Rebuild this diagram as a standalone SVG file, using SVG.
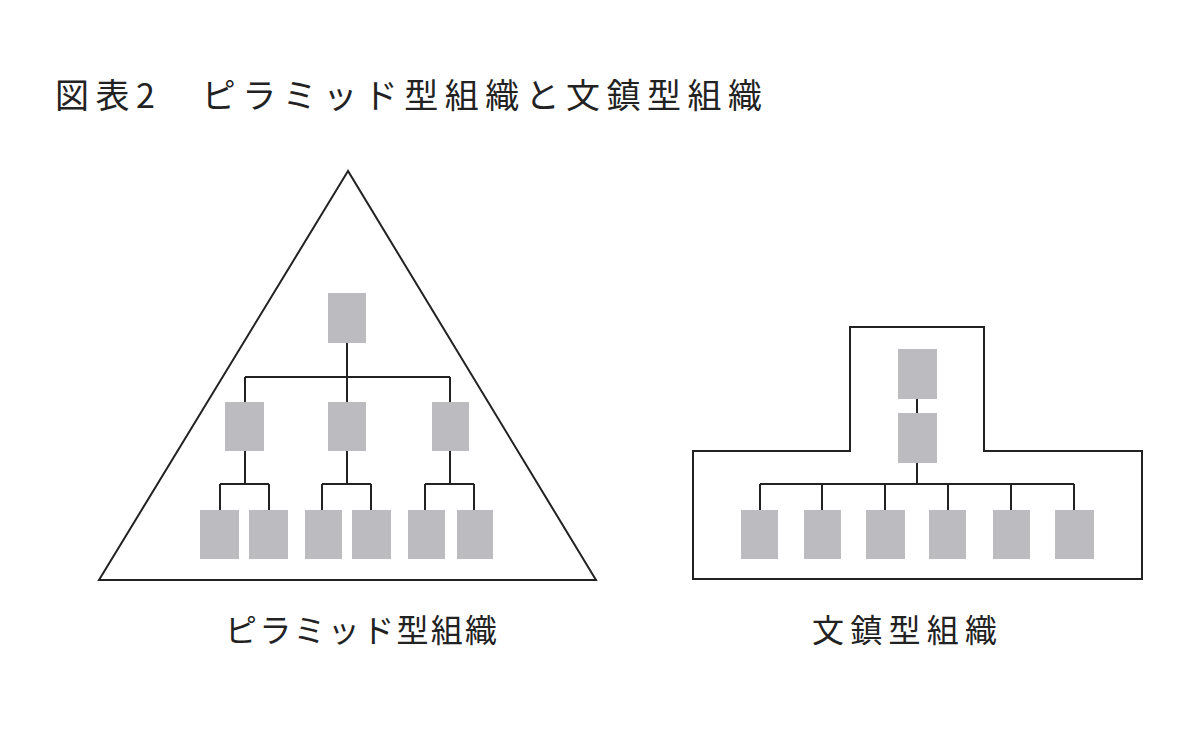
<svg xmlns="http://www.w3.org/2000/svg" width="1200" height="741" viewBox="0 0 1200 741">
<style>
.b{fill:#bcbcc0}
.o{fill:none;stroke:#222;stroke-width:2}
.c{fill:none;stroke:#222;stroke-width:2}
text{font-family:"Noto Sans CJK JP","Noto Sans",sans-serif;fill:#222}
</style>
<rect width="1200" height="741" fill="#fff"/>
<text x="55" y="108" font-size="34" font-weight="400" textLength="707" lengthAdjust="spacing">図表2　ピラミッド型組織と文鎮型組織</text>
<g id="pyramid-frame"><polygon class="o" points="348,171 99,580 596,580"/></g>
<g id="chain-frame"><polygon class="o" points="850,327 984,327 984,451 1142,451 1142,579 693,579 693,451 850,451"/></g>
<g id="connectors">
<path class="c" d="M347,343V402M245,377H450M245,377V402M450,377V402"/>
<path class="c" d="M245,451V484M220,484H269M220,484V510M269,484V510"/>
<path class="c" d="M347,451V484M322,484H371M322,484V510M371,484V510"/>
<path class="c" d="M450,451V484M425,484H474M425,484V510M474,484V510"/>
<path class="c" d="M917,399V413M917,463V484M760,484H1074M760,484V510M822,484V510M885,484V510M948,484V510M1011,484V510M1074,484V510"/>
</g>
<g id="p-top"><rect class="b" x="328" y="293" width="38" height="50"/></g>
<g id="p-m1"><rect class="b" x="225" y="402" width="39" height="49"/></g>
<g id="p-m2"><rect class="b" x="328" y="402" width="38" height="49"/></g>
<g id="p-m3"><rect class="b" x="432" y="402" width="37" height="49"/></g>
<g id="p-b1"><rect class="b" x="200" y="510" width="39" height="49"/></g>
<g id="p-b2"><rect class="b" x="249" y="510" width="39" height="49"/></g>
<g id="p-b3"><rect class="b" x="305" y="510" width="37" height="49"/></g>
<g id="p-b4"><rect class="b" x="352" y="510" width="39" height="49"/></g>
<g id="p-b5"><rect class="b" x="408" y="510" width="37" height="49"/></g>
<g id="p-b6"><rect class="b" x="457" y="510" width="36" height="49"/></g>
<g id="c-top"><rect class="b" x="898" y="349" width="39" height="50"/></g>
<g id="c-mid"><rect class="b" x="898" y="413" width="39" height="50"/></g>
<g id="c-b1"><rect class="b" x="741" y="510" width="37" height="49"/></g>
<g id="c-b2"><rect class="b" x="804" y="510" width="37" height="49"/></g>
<g id="c-b3"><rect class="b" x="866" y="510" width="39" height="49"/></g>
<g id="c-b4"><rect class="b" x="929" y="510" width="37" height="49"/></g>
<g id="c-b5"><rect class="b" x="993" y="510" width="37" height="49"/></g>
<g id="c-b6"><rect class="b" x="1055" y="510" width="39" height="49"/></g>
<text x="225" y="642" font-size="32" textLength="272" lengthAdjust="spacing">ピラミッド型組織</text>
<text x="812" y="642" font-size="32" textLength="185" lengthAdjust="spacing">文鎮型組織</text>
</svg>
